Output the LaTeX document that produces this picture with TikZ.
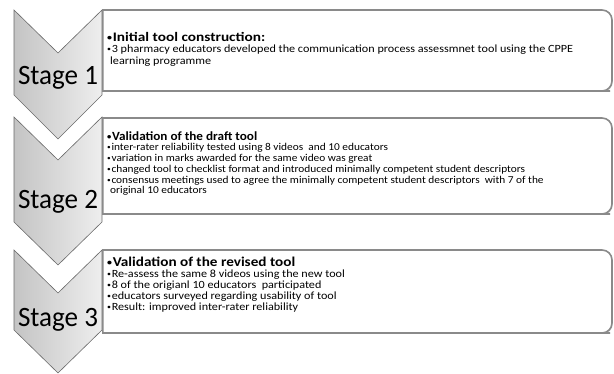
\documentclass[tikz,border=0pt]{standalone}
\usepackage{fontspec}
\setmainfont{Carlito}
\usetikzlibrary{shadows}
\definecolor{chevline}{RGB}{105,105,105}
\definecolor{chevL}{RGB}{196,196,196}
\definecolor{chevR}{RGB}{238,238,238}
\definecolor{boxline}{RGB}{138,138,138}
\newcommand{\bu}{\raisebox{0.1em}{\scalebox{0.65}{•}}\hspace{0.6pt}}
\newcommand\hAf{\fontsize{13}{15}\selectfont\bfseries}
\newcommand\bAf{\fontsize{11}{12}\selectfont}
\newcommand\hBf{\fontsize{12.5}{14}\selectfont\bfseries}
\newcommand\bBf{\fontsize{10.5}{11}\selectfont}
\newcommand\hCf{\fontsize{13.5}{16}\selectfont\bfseries}
\newcommand\bCf{\fontsize{11}{13}\selectfont}
\newcommand\stgf{\fontsize{28}{30}\selectfont}
\newsavebox\fitbox
\newlength\fitlen
\newcommand\setfit[3]{\sbox\fitbox{#3}\setlength\fitlen{\wd\fitbox}\pgfmathsetmacro#1{#2/\fitlen}}
\tikzset{
  chev/.style={draw=chevline, line width=0.6pt, left color=chevL, right color=chevR, line join=miter},
  rbox/.style={draw=boxline, line width=1.6pt, fill=white,
    drop shadow={shadow xshift=0.8pt, shadow yshift=-1pt, opacity=0.25}},
  stagelbl/.style={font=\stgf, inner sep=0, anchor=base},
  ln/.style={inner sep=0, anchor=base west},
  hA/.style={ln, font=\hAf}, bA/.style={ln, font=\bAf},
  hB/.style={ln, font=\hBf}, bB/.style={ln, font=\bBf},
  hC/.style={ln, font=\hCf}, bC/.style={ln, font=\bCf},
}
\begin{document}%
\setfit{\rst}{80}{\stgf Stage 1}%
\setfit{\rhA}{158}{\hAf\bu Initial tool construction:}%
\setfit{\rbA}{466}{\bAf\bu 3 pharmacy educators developed the communication process assessmnet tool using the CPPE}%
\setfit{\rhB}{150}{\hBf\bu Validation of the draft tool}%
\setfit{\rbBi}{268}{\bBf\bu inter-rater reliability tested using 8 videos\ \ and 10 educators}%
\setfit{\rbBii}{426}{\bBf\bu changed tool to checklist format and introduced minimally competent student descriptors}%
\setfit{\rbBiii}{448}{\bBf\bu consensus meetings used to agree the minimally competent student descriptors\ \ with 7 of the}%
\pgfmathsetmacro\rbB{(\rbBi+\rbBii+\rbBiii)/3}%
\setfit{\rhC}{188}{\hCf\bu Validation of the revised tool}%
\setfit{\rbCi}{240}{\bCf\bu Re-assess the same 8 videos using the new tool}%
\setfit{\rbCii}{232}{\bCf\bu educators surveyed regarding usability of tool}%
\setfit{\rbCiii}{187}{\bCf\bu Result: improved inter-rater reliability}%
\pgfmathsetmacro\rbC{(\rbCi+\rbCii+\rbCiii)/3}%
\begin{tikzpicture}[x=1pt,y=-1pt]
\useasboundingbox (0,0) rectangle (614,374);
% chevrons
\draw[chev] (14,10) -- (58,53) -- (102,10) -- (102,95) -- (58,139) -- (14,95) -- cycle;
\draw[chev] (14,117) -- (58,160) -- (102,117) -- (102,222) -- (58,265) -- (14,222) -- cycle;
\draw[chev] (14,250) -- (58,293) -- (102,250) -- (102,330) -- (58,373) -- (14,330) -- cycle;
% boxes
\draw[rbox] (102.8,91) -- (102.8,10) -- (600,10) [rounded corners=10pt] -- (612,10) -- (612,91) -- (600,91) [sharp corners] -- cycle;
\draw[rbox] (102.8,214) -- (102.8,118) -- (600,118) [rounded corners=10pt] -- (612,118) -- (612,214) -- (600,214) [sharp corners] -- cycle;
\draw[rbox] (102.8,333) -- (102.8,250) -- (600,250) [rounded corners=10pt] -- (612,250) -- (612,333) -- (600,333) [sharp corners] -- cycle;
% stage labels
\node[stagelbl] (s1) at (58,85) {\scalebox{\rst}[1]{Stage 1}};
\node[stagelbl] (s2) at (58,209) {\scalebox{\rst}[1]{Stage 2}};
\node[stagelbl] (s3) at (58,327) {\scalebox{\rst}[1]{Stage 3}};
% box 1
\node[hA] (a0) at (107,42) {\scalebox{\rhA}[1]{\bu Initial tool construction:}};
\node[bA] (a1) at (107,53) {\scalebox{\rbA}[1]{\bu 3 pharmacy educators developed the communication process assessmnet tool using the CPPE}};
\node[bA] (a2) at (110,64.5) {\scalebox{\rbA}[1]{learning programme}};
% box 2
\node[hB] (b0) at (107,140.5) {\scalebox{\rhB}[1]{\bu Validation of the draft tool}};
\node[bB] (b1) at (107,151) {\scalebox{\rbB}[1]{\bu inter-rater reliability tested using 8 videos\ \ and 10 educators}};
\node[bB] (b2) at (107,162) {\scalebox{\rbB}[1]{\bu variation in marks awarded for the same video was great}};
\node[bB] (b3) at (107,173) {\scalebox{\rbB}[1]{\bu changed tool to checklist format and introduced minimally competent student descriptors}};
\node[bB] (b4) at (107,183.5) {\scalebox{\rbB}[1]{\bu consensus meetings used to agree the minimally competent student descriptors\ \ with 7 of the}};
\node[bB] (b5) at (110,194) {\scalebox{\rbB}[1]{original 10 educators}};
% box 3
\node[hC] (c0) at (107,266.5) {\scalebox{\rhC}[1]{\bu Validation of the revised tool}};
\node[bC] (c1) at (107,277.5) {\scalebox{\rbC}[1]{\bu Re-assess the same 8 videos using the new tool}};
\node[bC] (c2) at (107,289) {\scalebox{\rbC}[1]{\bu 8 of the origianl 10 educators\ \ participated}};
\node[bC] (c3) at (107,300) {\scalebox{\rbC}[1]{\bu educators surveyed regarding usability of tool}};
\node[bC] (c4) at (107,311) {\scalebox{\rbC}[1]{\bu Result: improved inter-rater reliability}};
\end{tikzpicture}
\end{document}
